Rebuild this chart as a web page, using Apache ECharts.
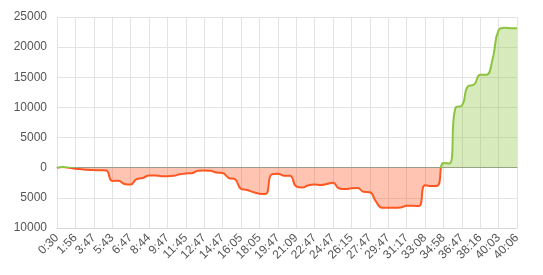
<!DOCTYPE html>
<html>
<head>
<meta charset="utf-8">
<script src="https://cdn.jsdelivr.net/npm/echarts@6/dist/echarts.min.js"></script>
<style>html,body{margin:0;padding:0;background:#fff}#c{width:543px;height:275px}</style>
</head>
<body>
<div id="c"></div>
<script>
var categories = [
  '0:30','0:58','1:27','1:56','2:33','3:10','3:47','4:26','5:05','5:43','6:04','6:25',
  '6:47','7:26','8:05','8:44','9:05','9:26','9:47','10:26','11:05','11:45','12:05','12:26',
  '12:47','13:27','14:07','14:47','15:13','15:39','16:05','16:45','17:25','18:05','18:39','19:13',
  '19:47','20:15','20:42','21:09','21:42','22:14','22:47','23:27','24:07','24:47','25:16','25:46',
  '26:15','26:45','27:16','27:47','28:27','29:07','29:47','30:17','30:47','31:17','31:55','32:31',
  '33:08','33:45','34:21','34:58','35:35','36:11','36:47','37:16','37:46','38:16','38:52','39:27',
  '40:03','40:04','40:05','40:06'
];
var values = [
  0, 100, 0, -170, -250, -330, -380, -420, -450, -2200, -2150, -2700,
  -2800, -1870, -1720, -1300, -1300, -1400, -1430, -1350, -1100, -950, -900, -500,
  -480, -500, -800, -870, -1700, -1900, -3500, -3700, -4050, -4300, -4350, -1100,
  -1000, -1330, -1350, -3100, -3300, -2900, -2800, -2870, -2700, -2500, -3450, -3550,
  -3400, -3350, -4000, -4080, -5600, -6640, -6640, -6640, -6600, -6300, -6300, -6350,
  -2900, -3050, -3000, 800, 700, 10000, 10300, 13500, 13800, 15400, 15400, 17900,
  22800, 23200, 23150, 23150
];
var yTicks = { min: -10000, max: 25000, interval: 5000 };

var chart = echarts.init(document.getElementById('c'));
chart.setOption({
  animation: false,
  grid: { left: 57, right: 26, top: 17, bottom: 47 },
  visualMap: {
    show: false,
    seriesIndex: 0,
    dimension: 1,
    pieces: [
      { gt: 0, lte: 100000, color: '#8cc43f' },
      { gt: -100000, lte: 0, color: '#ff5722' }
    ]
  },
  xAxis: [{
    type: 'category',
    boundaryGap: false,
    data: categories,
    axisLine: { onZero: false, lineStyle: { color: '#d8d8d8' } },
    axisTick: { show: false },
    axisLabel: { interval: 2, rotate: 45, color: '#555', fontSize: 12, fontFamily: 'Arial, Liberation Sans, sans-serif', margin: 8 },
    splitLine: { show: true, interval: 2, lineStyle: { color: '#e3e3e3' } }
  }, {
    type: 'category',
    boundaryGap: false,
    data: categories,
    position: 'bottom',
    axisLine: { onZero: true, lineStyle: { color: '#999', width: 1 } },
    axisTick: { show: false },
    axisLabel: { show: false },
    splitLine: { show: false }
  }],
  yAxis: {
    type: 'value',
    min: yTicks.min, max: yTicks.max, interval: yTicks.interval,
    axisLine: { show: false },
    axisTick: { show: false },
    axisLabel: { color: '#555', fontSize: 12, fontFamily: 'Arial, Liberation Sans, sans-serif', margin: 10,
      formatter: function (v) { return String(Math.abs(v)); } },
    splitLine: { lineStyle: { color: '#e3e3e3' } }
  },
  series: [{
    type: 'line',
    data: values,
    smooth: true,
    symbol: 'none',
    lineStyle: { width: 2 },
    areaStyle: { opacity: 0.35 }
  }]
});
</script>
</body>
</html>
